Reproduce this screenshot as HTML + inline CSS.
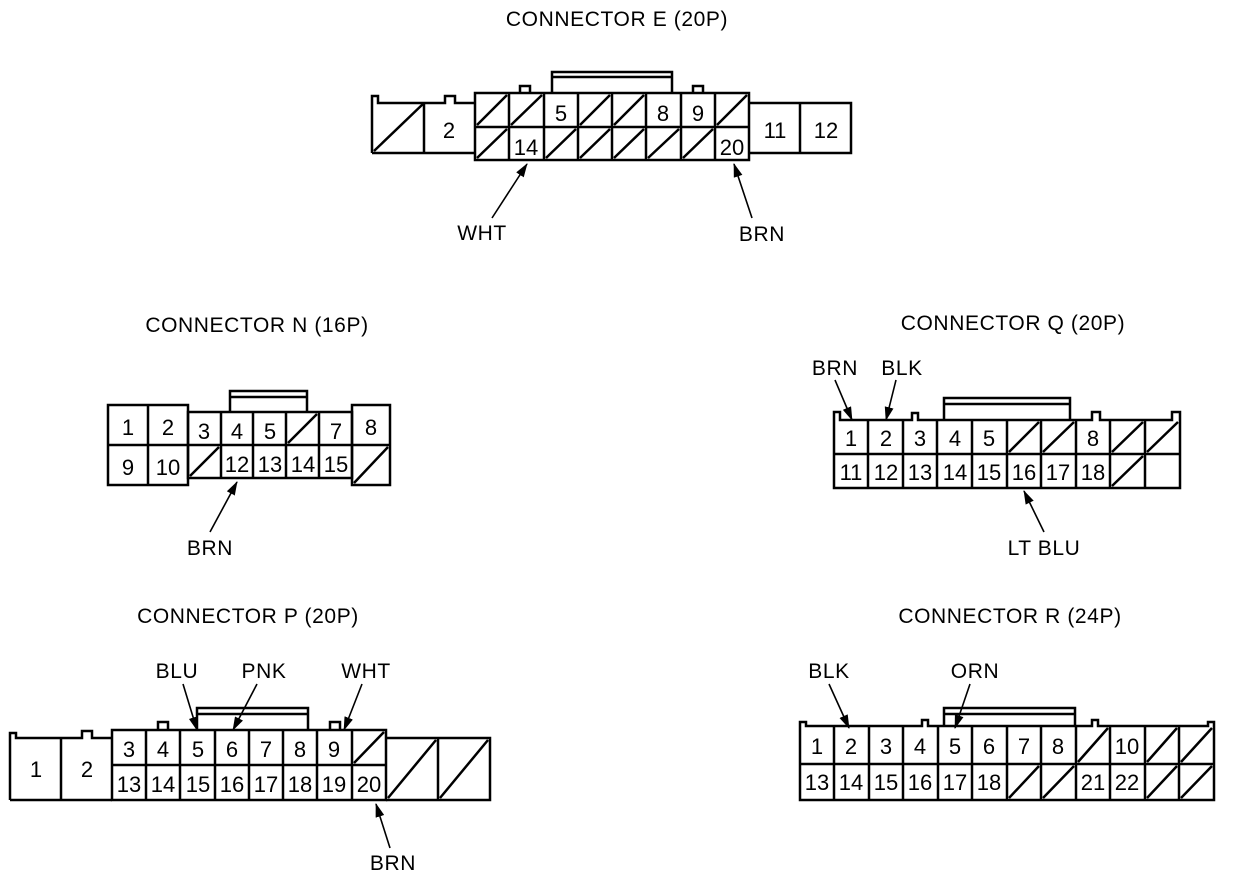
<!DOCTYPE html>
<html><head><meta charset="utf-8"><style>
html,body{margin:0;padding:0;background:#fff;}
svg{display:block}
text{font-family:"Liberation Sans",Arial,sans-serif;fill:#000}
.t{font-size:21px;text-anchor:middle;letter-spacing:0.6px}
.n{font-size:22px;text-anchor:middle}
</style></head><body>
<svg width="1248" height="880" viewBox="0 0 1248 880" xmlns="http://www.w3.org/2000/svg">
<defs><marker id="a" markerWidth="14" markerHeight="9" refX="13" refY="4.5" orient="auto" markerUnits="userSpaceOnUse"><path d="M0,0 L14,4.5 L0,9 Z" fill="#000"/></marker></defs>
<g stroke="#000" stroke-width="2.5" fill="none">
<!-- E -->
<path d="M372,153 V96 H378 V103 H445 V96 H455 V103 H475"/>
<path d="M372,153 H475 M424,103 V153 M374,151 L424,103"/>
<rect x="475" y="93" width="274" height="67"/>
<path d="M475,127 H749 M509,93 V160 M544,93 V160 M578,93 V160 M612,93 V160 M646,93 V160 M681,93 V160 M715,93 V160"/>
<path d="M520,93 V86 H530 V93 M693,93 V86 H703 V93"/>
<path d="M552,93 V72 H672 V93 M552,77 H672"/>
<path d="M749,103 H851 V153 H749 M800,103 V153"/>
<path d="M477,125 L507,95 M511,125 L542,95 M580,125 L610,95 M614,125 L644,95 M717,125 L747,95"/>
<path d="M477,158 L507,129 M546,158 L576,129 M580,158 L610,129 M614,158 L644,129 M648,158 L679,129 M683,158 L713,129"/>
<!-- N -->
<rect x="108" y="405" width="80" height="80"/>
<path d="M108,445 H188 M148,405 V485"/>
<rect x="188" y="412" width="164" height="66"/>
<path d="M188,445 H352 M221,412 V478 M253,412 V478 M286,412 V478 M319,412 V478"/>
<path d="M230,412 V391 H307 V412 M230,397 H307"/>
<rect x="352" y="405" width="38" height="80"/>
<path d="M352,445 H390 M288,443 L317,414 M190,476 L219,447 M354,483 L388,447"/>
<!-- Q -->
<path d="M834,488 V412 H840 V420 H912 V413 H918 V420 H1092 V412 H1100 V420 H1172 V412 H1180 V488 Z"/>
<path d="M834,454 H1180 M868,420 V488 M903,420 V488 M937,420 V488 M972,420 V488 M1007,420 V488 M1041,420 V488 M1076,420 V488 M1110,420 V488 M1145,420 V488"/>
<path d="M944,420 V398 H1070 V420 M944,404 H1070"/>
<path d="M1009,452 L1039,422 M1043,452 L1074,422 M1112,452 L1143,422 M1147,452 L1178,422 M1112,486 L1143,456"/>
<!-- P -->
<path d="M10,800 V733 H16 V738 H82 V731 H92 V738 H112"/>
<path d="M10,800 H112 M61,738 V800"/>
<rect x="112" y="730" width="274" height="70"/>
<path d="M112,765 H386 M146,730 V800 M180,730 V800 M215,730 V800 M249,730 V800 M283,730 V800 M317,730 V800 M352,730 V800"/>
<path d="M158,730 V722 H168 V730 M330,730 V722 H340 V730"/>
<path d="M197,730 V708 H308 V730 M197,714 H308"/>
<path d="M386,738 H490 V800 H386 M438,738 V800 M354,763 L384,732 M388,798 L436,740 M440,798 L488,740"/>
<!-- R -->
<path d="M800,800 V722 H806 V726 H922 V720 H928 V726 H1092 V720 H1098 V726 H1208 V722 H1214 V800 Z"/>
<path d="M800,764 H1214 M834,726 V800 M869,726 V800 M903,726 V800 M938,726 V800 M972,726 V800 M1007,726 V800 M1041,726 V800 M1076,726 V800 M1110,726 V800 M1145,726 V800 M1179,726 V800"/>
<path d="M944,726 V708 H1075 V726 M944,714 H1075"/>
<path d="M1078,762 L1108,728 M1147,762 L1177,728 M1181,762 L1212,728 M1009,798 L1039,766 M1043,798 L1074,766 M1147,798 L1177,766 M1181,798 L1212,766"/>
</g>
<g stroke="#000" stroke-width="1.6" fill="none" marker-end="url(#a)">
<line x1="492" y1="218" x2="527" y2="164"/>
<line x1="752" y1="218" x2="734" y2="164"/>
<line x1="210" y1="532" x2="237" y2="482"/>
<line x1="835" y1="380" x2="852" y2="420"/>
<line x1="896" y1="380" x2="886" y2="420"/>
<line x1="1044" y1="532" x2="1024" y2="491"/>
<line x1="183" y1="684" x2="197" y2="730"/>
<line x1="257" y1="684" x2="233" y2="730"/>
<line x1="362" y1="684" x2="344" y2="730"/>
<line x1="390" y1="848" x2="376" y2="804"/>
<line x1="829" y1="684" x2="849" y2="728"/>
<line x1="970" y1="684" x2="955" y2="728"/>
</g>
<g>
<text class="t" x="617" y="26">CONNECTOR E (20P)</text>
<text class="t" x="482" y="240">WHT</text>
<text class="t" x="762" y="241">BRN</text>
<text class="t" x="257" y="332">CONNECTOR N (16P)</text>
<text class="t" x="210" y="555">BRN</text>
<text class="t" x="1013" y="330">CONNECTOR Q (20P)</text>
<text class="t" x="835" y="375">BRN</text>
<text class="t" x="902" y="375">BLK</text>
<text class="t" x="1044" y="555">LT BLU</text>
<text class="t" x="248" y="623">CONNECTOR P (20P)</text>
<text class="t" x="177" y="678">BLU</text>
<text class="t" x="264" y="678">PNK</text>
<text class="t" x="366" y="678">WHT</text>
<text class="t" x="393" y="870">BRN</text>
<text class="t" x="1010" y="623">CONNECTOR R (24P)</text>
<text class="t" x="829" y="678">BLK</text>
<text class="t" x="975" y="678">ORN</text>
</g>
<g>
<text class="n" x="449" y="138">2</text>
<text class="n" x="561" y="121">5</text><text class="n" x="663" y="121">8</text><text class="n" x="698" y="121">9</text>
<text class="n" x="526" y="155">14</text><text class="n" x="732" y="155">20</text>
<text class="n" x="775" y="138">11</text><text class="n" x="826" y="138">12</text>

<text class="n" x="128" y="435">1</text><text class="n" x="168" y="435">2</text>
<text class="n" x="128" y="475">9</text><text class="n" x="168" y="475">10</text>
<text class="n" x="204" y="439">3</text><text class="n" x="237" y="439">4</text><text class="n" x="270" y="439">5</text><text class="n" x="336" y="439">7</text>
<text class="n" x="237" y="472">12</text><text class="n" x="270" y="472">13</text><text class="n" x="303" y="472">14</text><text class="n" x="336" y="472">15</text>
<text class="n" x="371" y="435">8</text>

<text class="n" x="851" y="446">1</text><text class="n" x="886" y="446">2</text><text class="n" x="920" y="446">3</text><text class="n" x="955" y="446">4</text><text class="n" x="989" y="446">5</text><text class="n" x="1093" y="446">8</text>
<text class="n" x="851" y="480">11</text><text class="n" x="886" y="480">12</text><text class="n" x="920" y="480">13</text><text class="n" x="955" y="480">14</text><text class="n" x="989" y="480">15</text><text class="n" x="1024" y="480">16</text><text class="n" x="1058" y="480">17</text><text class="n" x="1093" y="480">18</text>

<text class="n" x="36" y="777">1</text><text class="n" x="87" y="777">2</text>
<text class="n" x="129" y="757">3</text><text class="n" x="163" y="757">4</text><text class="n" x="198" y="757">5</text><text class="n" x="232" y="757">6</text><text class="n" x="266" y="757">7</text><text class="n" x="300" y="757">8</text><text class="n" x="334" y="757">9</text>
<text class="n" x="129" y="792">13</text><text class="n" x="163" y="792">14</text><text class="n" x="198" y="792">15</text><text class="n" x="232" y="792">16</text><text class="n" x="266" y="792">17</text><text class="n" x="300" y="792">18</text><text class="n" x="334" y="792">19</text><text class="n" x="369" y="792">20</text>

<text class="n" x="817" y="754">1</text><text class="n" x="851" y="754">2</text><text class="n" x="886" y="754">3</text><text class="n" x="920" y="754">4</text><text class="n" x="955" y="754">5</text><text class="n" x="989" y="754">6</text><text class="n" x="1024" y="754">7</text><text class="n" x="1058" y="754">8</text><text class="n" x="1127" y="754">10</text>
<text class="n" x="817" y="790">13</text><text class="n" x="851" y="790">14</text><text class="n" x="886" y="790">15</text><text class="n" x="920" y="790">16</text><text class="n" x="955" y="790">17</text><text class="n" x="989" y="790">18</text><text class="n" x="1093" y="790">21</text><text class="n" x="1127" y="790">22</text>
</g>
</svg>
</body></html>
